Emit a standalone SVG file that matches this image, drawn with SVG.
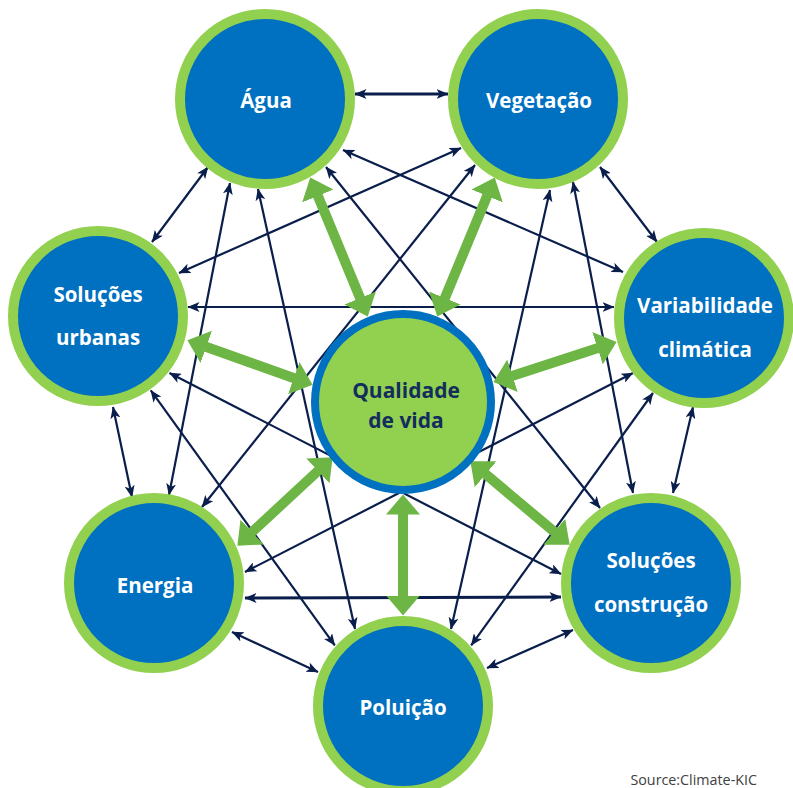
<svg xmlns="http://www.w3.org/2000/svg" width="793" height="788" viewBox="0 0 793 788">
<defs>
<style>
.lnk{stroke:#0a1e4c;stroke-width:2.2;fill:none;marker-start:url(#nav);marker-end:url(#nav)}
.lnk.thick{stroke-width:3}
.grn{stroke:#6db544;stroke-width:10;fill:none;marker-start:url(#grh);marker-end:url(#grh)}
.ring{fill:#0070c0;stroke:#92d050;stroke-width:10}
.core{fill:#92d050;stroke:#0070c0;stroke-width:8}
.lbl{font-family:"Open Sans","Noto Sans","Liberation Sans",sans-serif;font-weight:bold;font-size:20.5px;fill:#ffffff;text-anchor:middle}
.clbl{font-family:"Open Sans","Noto Sans","Liberation Sans",sans-serif;font-weight:bold;font-size:21px;fill:#132d5c;text-anchor:middle}
.src{font-family:"Open Sans","Noto Sans","Liberation Sans",sans-serif;font-size:14.3px;fill:#404040;text-anchor:end}
</style>
<marker id="nav" viewBox="0 0 12 10" markerWidth="12" markerHeight="10" refX="11.5" refY="5" orient="auto-start-reverse" markerUnits="userSpaceOnUse">
<path d="M0,0 L12,5 L0,10 L3,5 z" fill="#0a1e4c"/>
</marker>
<marker id="grh" viewBox="0 0 20 34" markerWidth="20" markerHeight="34" refX="0.5" refY="17" orient="auto-start-reverse" markerUnits="userSpaceOnUse">
<path d="M0,0 L20,17 L0,34 z" fill="#6db544"/>
</marker>
</defs>
<rect width="793" height="788" fill="#ffffff"/>
<g id="connectors">
<line class="lnk thick" x1="355" y1="94" x2="448" y2="94"/>
<line class="lnk" x1="600" y1="167" x2="657" y2="242"/>
<line class="lnk" x1="693" y1="407" x2="673" y2="493"/>
<line class="lnk" x1="573" y1="630" x2="487" y2="668"/>
<line class="lnk" x1="318" y1="672" x2="232" y2="632"/>
<line class="lnk" x1="132" y1="497" x2="113" y2="407"/>
<line class="lnk" x1="152" y1="242" x2="208" y2="167"/>
<line class="lnk" x1="343" y1="150" x2="623" y2="272"/>
<line class="lnk" x1="326" y1="167" x2="600" y2="508"/>
<line class="lnk" x1="258" y1="189" x2="355" y2="629"/>
<line class="lnk" x1="230" y1="183" x2="169" y2="495"/>
<line class="lnk" x1="461" y1="148" x2="179" y2="273"/>
<line class="lnk" x1="475" y1="165" x2="202" y2="507"/>
<line class="lnk" x1="550" y1="190" x2="451" y2="629"/>
<line class="lnk" x1="573" y1="182" x2="633" y2="493"/>
<line class="lnk" x1="188" y1="307" x2="614" y2="307"/>
<line class="lnk" x1="169.5" y1="373" x2="561" y2="574"/>
<line class="lnk" x1="150.8" y1="390.4" x2="334.8" y2="645.4"/>
<line class="lnk" x1="633" y1="373" x2="245" y2="572"/>
<line class="lnk" x1="653" y1="393" x2="471.2" y2="645.4"/>
<line class="lnk thick" x1="245" y1="598" x2="561" y2="597"/>
<line class="grn" x1="317.7" y1="195.5" x2="360.3" y2="298.5"/>
<line class="grn" x1="487.3" y1="195.5" x2="444.7" y2="298.5"/>
<line class="grn" x1="205.8" y1="346.7" x2="294.2" y2="378.3"/>
<line class="grn" x1="598" y1="348.1" x2="512" y2="375.9"/>
<line class="grn" x1="251.7" y1="532.4" x2="318.3" y2="470.6"/>
<line class="grn" x1="554.7" y1="532.1" x2="485.3" y2="473.9"/>
<line class="grn" x1="403" y1="596" x2="403" y2="514"/>
</g>
<g id="node-qualidade">
<circle class="core" cx="403" cy="402" r="88"/>
<text class="clbl" x="406" y="398">Qualidade</text>
<text class="clbl" x="406" y="428">de vida</text>
</g>
<g id="node-agua">
<circle class="ring" cx="265" cy="99" r="85"/>
<text class="lbl" x="266" y="108">Água</text>
</g>
<g id="node-vegetacao">
<circle class="ring" cx="538" cy="99" r="85"/>
<text class="lbl" x="539" y="108">Vegetação</text>
</g>
<g id="node-solucoes-urbanas">
<circle class="ring" cx="98" cy="316" r="85"/>
<text class="lbl" x="98" y="302">Soluções</text>
<text class="lbl" x="98" y="345">urbanas</text>
</g>
<g id="node-variabilidade">
<circle class="ring" cx="704" cy="318" r="85"/>
<text class="lbl" x="705" y="313">Variabilidade</text>
<text class="lbl" x="705" y="357">climática</text>
</g>
<g id="node-energia">
<circle class="ring" cx="154" cy="583" r="85"/>
<text class="lbl" x="155" y="593">Energia</text>
</g>
<g id="node-solucoes-construcao">
<circle class="ring" cx="651" cy="583" r="85"/>
<text class="lbl" x="651" y="568">Soluções</text>
<text class="lbl" x="651" y="612">construção</text>
</g>
<g id="node-poluicao">
<circle class="ring" cx="403" cy="706" r="85"/>
<text class="lbl" x="403" y="715">Poluição</text>
</g>
<text class="src" x="757" y="785">Source:Climate-KIC</text>
</svg>
